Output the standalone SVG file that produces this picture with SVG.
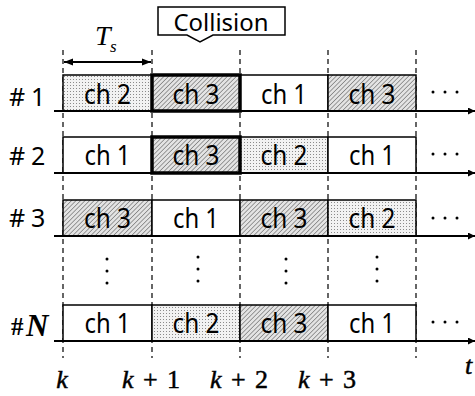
<svg xmlns="http://www.w3.org/2000/svg" width="475" height="396" viewBox="0 0 475 396">
  <defs>
    <pattern id="hatch" width="3.2" height="3.2" patternUnits="userSpaceOnUse" patternTransform="rotate(45)">
      <rect width="3.2" height="3.2" fill="#e4e4e4"/>
      <line x1="0" y1="0" x2="0" y2="3.2" stroke="#5a5a5a" stroke-width="1.1"/>
    </pattern>
    <pattern id="dots" width="3" height="3" patternUnits="userSpaceOnUse">
      <rect width="3" height="3" fill="#f2f2f2"/>
      <rect x="1" y="1" width="1" height="1" fill="#8a8a8a"/>
    </pattern>
    <marker id="arrow" viewBox="0 0 10 10" refX="10" refY="5" markerWidth="7" markerHeight="7" markerUnits="userSpaceOnUse" orient="auto">
      <path d="M0,0 L10,5 L0,10 z" fill="#000"/>
    </marker>
    <marker id="tip" viewBox="0 0 10 10" refX="10" refY="5" markerWidth="9" markerHeight="9" markerUnits="userSpaceOnUse" orient="auto-start-reverse">
      <path d="M0,1 L10,5 L0,9 z" fill="#000"/>
    </marker>
  </defs>
  <style>
    .cell { stroke: #000; stroke-width: 1.5; }
    .c1 { fill: #fff; }
    .c2 { fill: url(#dots); }
    .c3 { fill: url(#hatch); }
    .hit { fill: none; stroke: #000; stroke-width: 3.5; }
    .ch { font-family: "Noto Sans", "DejaVu Sans", sans-serif; font-size: 28px; text-anchor: middle; fill: #000; }
    .row { font-family: "Noto Sans", "DejaVu Sans", sans-serif; font-size: 25px; fill: #000; }
    .math { font-family: "Liberation Serif", "DejaVu Serif", serif; font-style: italic; fill: #000; }
    .num { font-family: "Liberation Serif", "DejaVu Serif", serif; fill: #000; }
    .slot { stroke: #000; stroke-width: 1.2; stroke-dasharray: 5 4; }
    .axis { stroke: #000; stroke-width: 2; marker-end: url(#arrow); }
  </style>

  <!-- slot boundaries -->
  <g id="slot-lines">
    <line class="slot" x1="63" y1="50" x2="63" y2="358"/>
    <line class="slot" x1="152" y1="50" x2="152" y2="358"/>
    <line class="slot" x1="240" y1="50" x2="240" y2="358"/>
    <line class="slot" x1="328" y1="50" x2="328" y2="358"/>
    <line class="slot" x1="416" y1="50" x2="416" y2="358"/>
  </g>

  <!-- slot duration -->
  <g id="ts">
    <line x1="64" y1="62" x2="151" y2="62" stroke="#000" stroke-width="2" marker-start="url(#tip)" marker-end="url(#tip)"/>
    <text class="math" x="95" y="45" font-size="28">T</text>
    <text class="math" x="110" y="52" font-size="17">s</text>
  </g>

  <!-- collision callout -->
  <g id="collision">
    <path d="M158,7 H285 V35 H213 L200,42 L187,35 H158 Z" fill="#fff" stroke="#000" stroke-width="1.5"/>
    <text x="221" y="31" font-family="Noto Sans, DejaVu Sans, sans-serif" font-size="23" text-anchor="middle" textLength="95" lengthAdjust="spacingAndGlyphs">Collision</text>
  </g>

  <!-- user 1 -->
  <g id="user-1">
    <text class="row" x="9" y="106">#</text>
    <text class="row" x="31" y="106">1</text>
    <rect class="cell c2" x="63" y="75" width="89" height="36"/>
    <rect class="cell c3" x="152" y="75" width="88" height="36"/>
    <rect class="cell c1" x="240" y="75" width="88" height="36"/>
    <rect class="cell c3" x="328" y="75" width="88" height="36"/>
    <rect class="hit" x="152" y="75" width="88" height="36"/>
    <text class="ch" x="107.5" y="104" textLength="47" lengthAdjust="spacingAndGlyphs">ch 2</text>
    <text class="ch" x="196" y="104" textLength="47" lengthAdjust="spacingAndGlyphs">ch 3</text>
    <text class="ch" x="284" y="104" textLength="46" lengthAdjust="spacingAndGlyphs">ch 1</text>
    <text class="ch" x="372" y="104" textLength="47" lengthAdjust="spacingAndGlyphs">ch 3</text>
    <g fill="#000"><circle cx="433" cy="92" r="1.5"/><circle cx="445" cy="92" r="1.5"/><circle cx="457" cy="92" r="1.5"/></g>
  </g>

  <!-- user 2 -->
  <g id="user-2">
    <text class="row" x="9" y="165">#</text>
    <text class="row" x="31" y="165">2</text>
    <rect class="cell c1" x="63" y="137" width="89" height="36"/>
    <rect class="cell c3" x="152" y="137" width="88" height="36"/>
    <rect class="cell c2" x="240" y="137" width="88" height="36"/>
    <rect class="cell c1" x="328" y="137" width="88" height="36"/>
    <rect class="hit" x="152" y="137" width="88" height="36"/>
    <text class="ch" x="107.5" y="165" textLength="46" lengthAdjust="spacingAndGlyphs">ch 1</text>
    <text class="ch" x="196" y="165" textLength="47" lengthAdjust="spacingAndGlyphs">ch 3</text>
    <text class="ch" x="284" y="165" textLength="47" lengthAdjust="spacingAndGlyphs">ch 2</text>
    <text class="ch" x="372" y="165" textLength="46" lengthAdjust="spacingAndGlyphs">ch 1</text>
    <g fill="#000"><circle cx="433" cy="154" r="1.5"/><circle cx="445" cy="154" r="1.5"/><circle cx="457" cy="154" r="1.5"/></g>
  </g>

  <!-- user 3 -->
  <g id="user-3">
    <text class="row" x="9" y="227">#</text>
    <text class="row" x="31" y="227">3</text>
    <rect class="cell c3" x="63" y="200" width="89" height="36"/>
    <rect class="cell c1" x="152" y="200" width="88" height="36"/>
    <rect class="cell c3" x="240" y="200" width="88" height="36"/>
    <rect class="cell c2" x="328" y="200" width="88" height="36"/>
    <text class="ch" x="107.5" y="228" textLength="47" lengthAdjust="spacingAndGlyphs">ch 3</text>
    <text class="ch" x="196" y="228" textLength="46" lengthAdjust="spacingAndGlyphs">ch 1</text>
    <text class="ch" x="284" y="228" textLength="47" lengthAdjust="spacingAndGlyphs">ch 3</text>
    <text class="ch" x="372" y="228" textLength="47" lengthAdjust="spacingAndGlyphs">ch 2</text>
    <g fill="#000"><circle cx="433" cy="218" r="1.5"/><circle cx="445" cy="218" r="1.5"/><circle cx="457" cy="218" r="1.5"/></g>
  </g>

  <!-- omitted users -->
  <g id="ellipsis" fill="#000">
    <circle cx="107" cy="259" r="1.5"/><circle cx="107" cy="271" r="1.5"/><circle cx="107" cy="283" r="1.5"/>
    <circle cx="198" cy="257" r="1.5"/><circle cx="198" cy="269" r="1.5"/><circle cx="198" cy="281" r="1.5"/>
    <circle cx="286" cy="259" r="1.5"/><circle cx="286" cy="271" r="1.5"/><circle cx="286" cy="283" r="1.5"/>
    <circle cx="377" cy="257" r="1.5"/><circle cx="377" cy="269" r="1.5"/><circle cx="377" cy="281" r="1.5"/>
  </g>

  <!-- user N -->
  <g id="user-n">
    <text class="num" x="11" y="335" font-size="25" font-weight="bold">#</text>
    <text class="math" x="26" y="336" font-size="31" font-weight="bold">N</text>
    <rect class="cell c1" x="63" y="305" width="89" height="36"/>
    <rect class="cell c2" x="152" y="305" width="88" height="36"/>
    <rect class="cell c3" x="240" y="305" width="88" height="36"/>
    <rect class="cell c1" x="328" y="305" width="88" height="36"/>
    <text class="ch" x="107.5" y="333" textLength="46" lengthAdjust="spacingAndGlyphs">ch 1</text>
    <text class="ch" x="196" y="333" textLength="47" lengthAdjust="spacingAndGlyphs">ch 2</text>
    <text class="ch" x="284" y="333" textLength="47" lengthAdjust="spacingAndGlyphs">ch 3</text>
    <text class="ch" x="372" y="333" textLength="46" lengthAdjust="spacingAndGlyphs">ch 1</text>
    <g fill="#000"><circle cx="433" cy="322" r="1.5"/><circle cx="445" cy="322" r="1.5"/><circle cx="457" cy="322" r="1.5"/></g>
  </g>

  <!-- time axes -->
  <g id="axes">
    <line class="axis" x1="54" y1="111" x2="475" y2="111"/>
    <line class="axis" x1="54" y1="173" x2="475" y2="173"/>
    <line class="axis" x1="54" y1="236" x2="475" y2="236"/>
    <line class="axis" x1="54" y1="341" x2="475" y2="341"/>
  </g>

  <!-- time indices -->
  <g id="time-labels" font-size="26" stroke="#000" stroke-width="0.5">
    <text class="math" x="62" y="388" text-anchor="middle">k</text>
    <text x="151" y="388" text-anchor="middle" textLength="58" lengthAdjust="spacing"><tspan class="math">k</tspan><tspan class="num"> + 1</tspan></text>
    <text x="239" y="388" text-anchor="middle" textLength="58" lengthAdjust="spacing"><tspan class="math">k</tspan><tspan class="num"> + 2</tspan></text>
    <text x="327" y="388" text-anchor="middle" textLength="58" lengthAdjust="spacing"><tspan class="math">k</tspan><tspan class="num"> + 3</tspan></text>
    <text class="math" x="465" y="374">t</text>
  </g>
</svg>
